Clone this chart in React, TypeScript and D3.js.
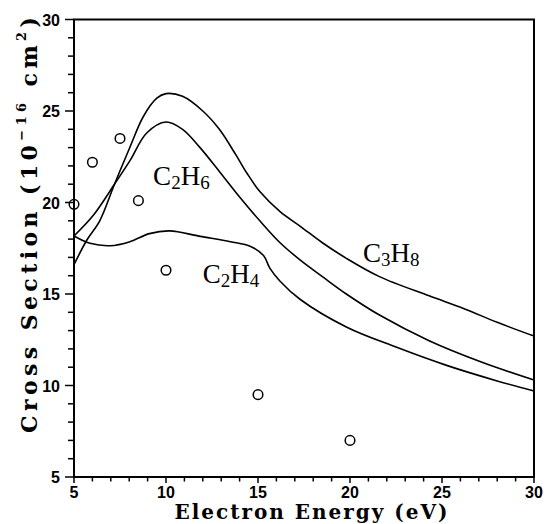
import React from "react";
import * as d3 from "d3";

const c3h8X = [5, 5.7, 6.4, 7.2, 8.05, 8.77, 9.5, 10.0, 10.9, 12.0, 12.9, 13.8, 14.4, 15.1, 16.2, 17.3, 18.5, 19.8, 21.6, 24.3, 26.2, 28.0, 30];
const c3h8Y = [16.6, 17.95, 19.0, 21.0, 23.05, 24.7, 25.7, 25.95, 25.8, 25.0, 24.0, 22.6, 21.6, 20.6, 19.5, 18.7, 17.8, 16.95, 15.95, 14.9, 14.2, 13.45, 12.7];

const c2h6X = [5, 6.05, 7.2, 8.05, 8.95, 10.0, 10.9, 11.85, 12.9, 14.0, 15.1, 16.2, 17.3, 18.5, 19.8, 21.6, 24.3, 27.1, 30];
const c2h6Y = [18.17, 19.3, 21.0, 22.3, 23.8, 24.4, 24.0, 23.0, 21.7, 20.3, 19.0, 17.8, 16.85, 15.95, 15.0, 13.85, 12.45, 11.3, 10.3];

const c2h4X = [5, 5.87, 6.96, 8.04, 9.1, 10.2, 11.85, 13.5, 14.6, 15.3, 15.65, 16.2, 17.3, 19.8, 22.5, 25.25, 28.0, 30];
const c2h4Y = [18.17, 17.77, 17.64, 17.86, 18.3, 18.45, 18.15, 17.86, 17.6, 17.1, 16.4, 15.7, 14.7, 13.2, 12.1, 11.1, 10.25, 9.7];

const pointsX = [5, 6, 7.5, 8.5, 10, 15, 20];
const pointsY = [19.9, 22.2, 23.5, 20.1, 16.3, 9.5, 7.0];

const xTicks = [5, 10, 15, 20, 25, 30];
const yTicks = [5, 10, 15, 20, 25, 30];

const labelNames = [
  { main1: "C", sub1: "2", main2: "H", sub2: "6" },
  { main1: "C", sub1: "2", main2: "H", sub2: "4" },
  { main1: "C", sub1: "3", main2: "H", sub2: "8" },
];
const labelX = [9.3, 12.0, 20.7];
const labelY = [20.96, 15.6, 16.75];

export default function App() {
  const W = 546, H = 524;
  const x = d3.scaleLinear().domain([5, 30]).range([74, 534]);
  const y = d3.scaleLinear().domain([5, 30]).range([477, 19.5]);

  const line = d3
    .line<[number, number]>()
    .x((d) => x(d[0]))
    .y((d) => y(d[1]))
    .curve(d3.curveCatmullRom.alpha(0.5));

  const series = [
    c3h8X.map((v, i) => [v, c3h8Y[i]] as [number, number]),
    c2h6X.map((v, i) => [v, c2h6Y[i]] as [number, number]),
    c2h4X.map((v, i) => [v, c2h4Y[i]] as [number, number]),
  ];

  const minor = d3.range(5, 31, 1);
  const tickFont = "'Liberation Sans', Arial, sans-serif";
  const titleFont = "'DejaVu Serif', serif";
  const serifFont = "'Liberation Serif', 'Times New Roman', serif";

  return (
    <svg
      width={W}
      height={H}
      style={{ position: "absolute", left: 0, top: 0, background: "#fff" }}
    >
      <rect x={0} y={0} width={W} height={H} fill="#fff" />
      {series.map((s, i) => (
        <path key={i} d={line(s) || ""} fill="none" stroke="#000" strokeWidth={1.6} />
      ))}
      {pointsX.map((v, i) => (
        <circle key={i} cx={x(v)} cy={y(pointsY[i])} r={4.8} fill="none" stroke="#000" strokeWidth={1.5} />
      ))}
      <rect
        x={x(5)}
        y={y(30)}
        width={x(30) - x(5)}
        height={y(5) - y(30)}
        fill="none"
        stroke="#000"
        strokeWidth={2}
      />
      {minor.map((v) => (
        <line key={"xm" + v} x1={x(v)} x2={x(v)} y1={y(5)} y2={y(5) + (v % 5 === 0 ? 6 : 4.5)} stroke="#000" strokeWidth={1.5} />
      ))}
      {minor.map((v) => (
        <line key={"ym" + v} x1={x(5)} x2={x(5) - (v % 5 === 0 ? 9 : 6)} y1={y(v)} y2={y(v)} stroke="#000" strokeWidth={1.5} />
      ))}
      {xTicks.map((v) => (
        <text key={"xt" + v} x={x(v)} y={498} textAnchor="middle" fontFamily={tickFont} fontWeight="bold" fontSize={16}>
          {v}
        </text>
      ))}
      {yTicks.map((v) => (
        <text key={"yt" + v} x={60} y={y(v) + 6} textAnchor="end" fontFamily={tickFont} fontWeight="bold" fontSize={16}>
          {v}
        </text>
      ))}
      <text
        x={174.5}
        y={519}
        fontFamily={titleFont}
        fontWeight="bold"
        fontSize={20}
        textLength={273}
        lengthAdjust="spacing"
      >
        Electron Energy (eV)
      </text>
      <text
        transform={`translate(37, 433) rotate(-90)`}
        fontFamily={titleFont}
        fontWeight="bold"
        fontSize={22}
        textLength={416}
        lengthAdjust="spacing"
      >
        {"Cross Section (10"}
        <tspan fontSize={13} dy={-11}>−16</tspan>
        <tspan dy={11}>{" cm"}</tspan>
        <tspan fontSize={13} dy={-11}>2</tspan>
        <tspan dy={11}>)</tspan>
      </text>
      {labelNames.map((l, i) => (
        <text key={"lb" + i} x={x(labelX[i])} y={y(labelY[i])} fontFamily={serifFont} fontSize={27}>
          {l.main1}
          <tspan fontSize={19} dy={4}>{l.sub1}</tspan>
          <tspan dy={-4}>{l.main2}</tspan>
          <tspan fontSize={19} dy={4}>{l.sub2}</tspan>
        </text>
      ))}
    </svg>
  );
}
